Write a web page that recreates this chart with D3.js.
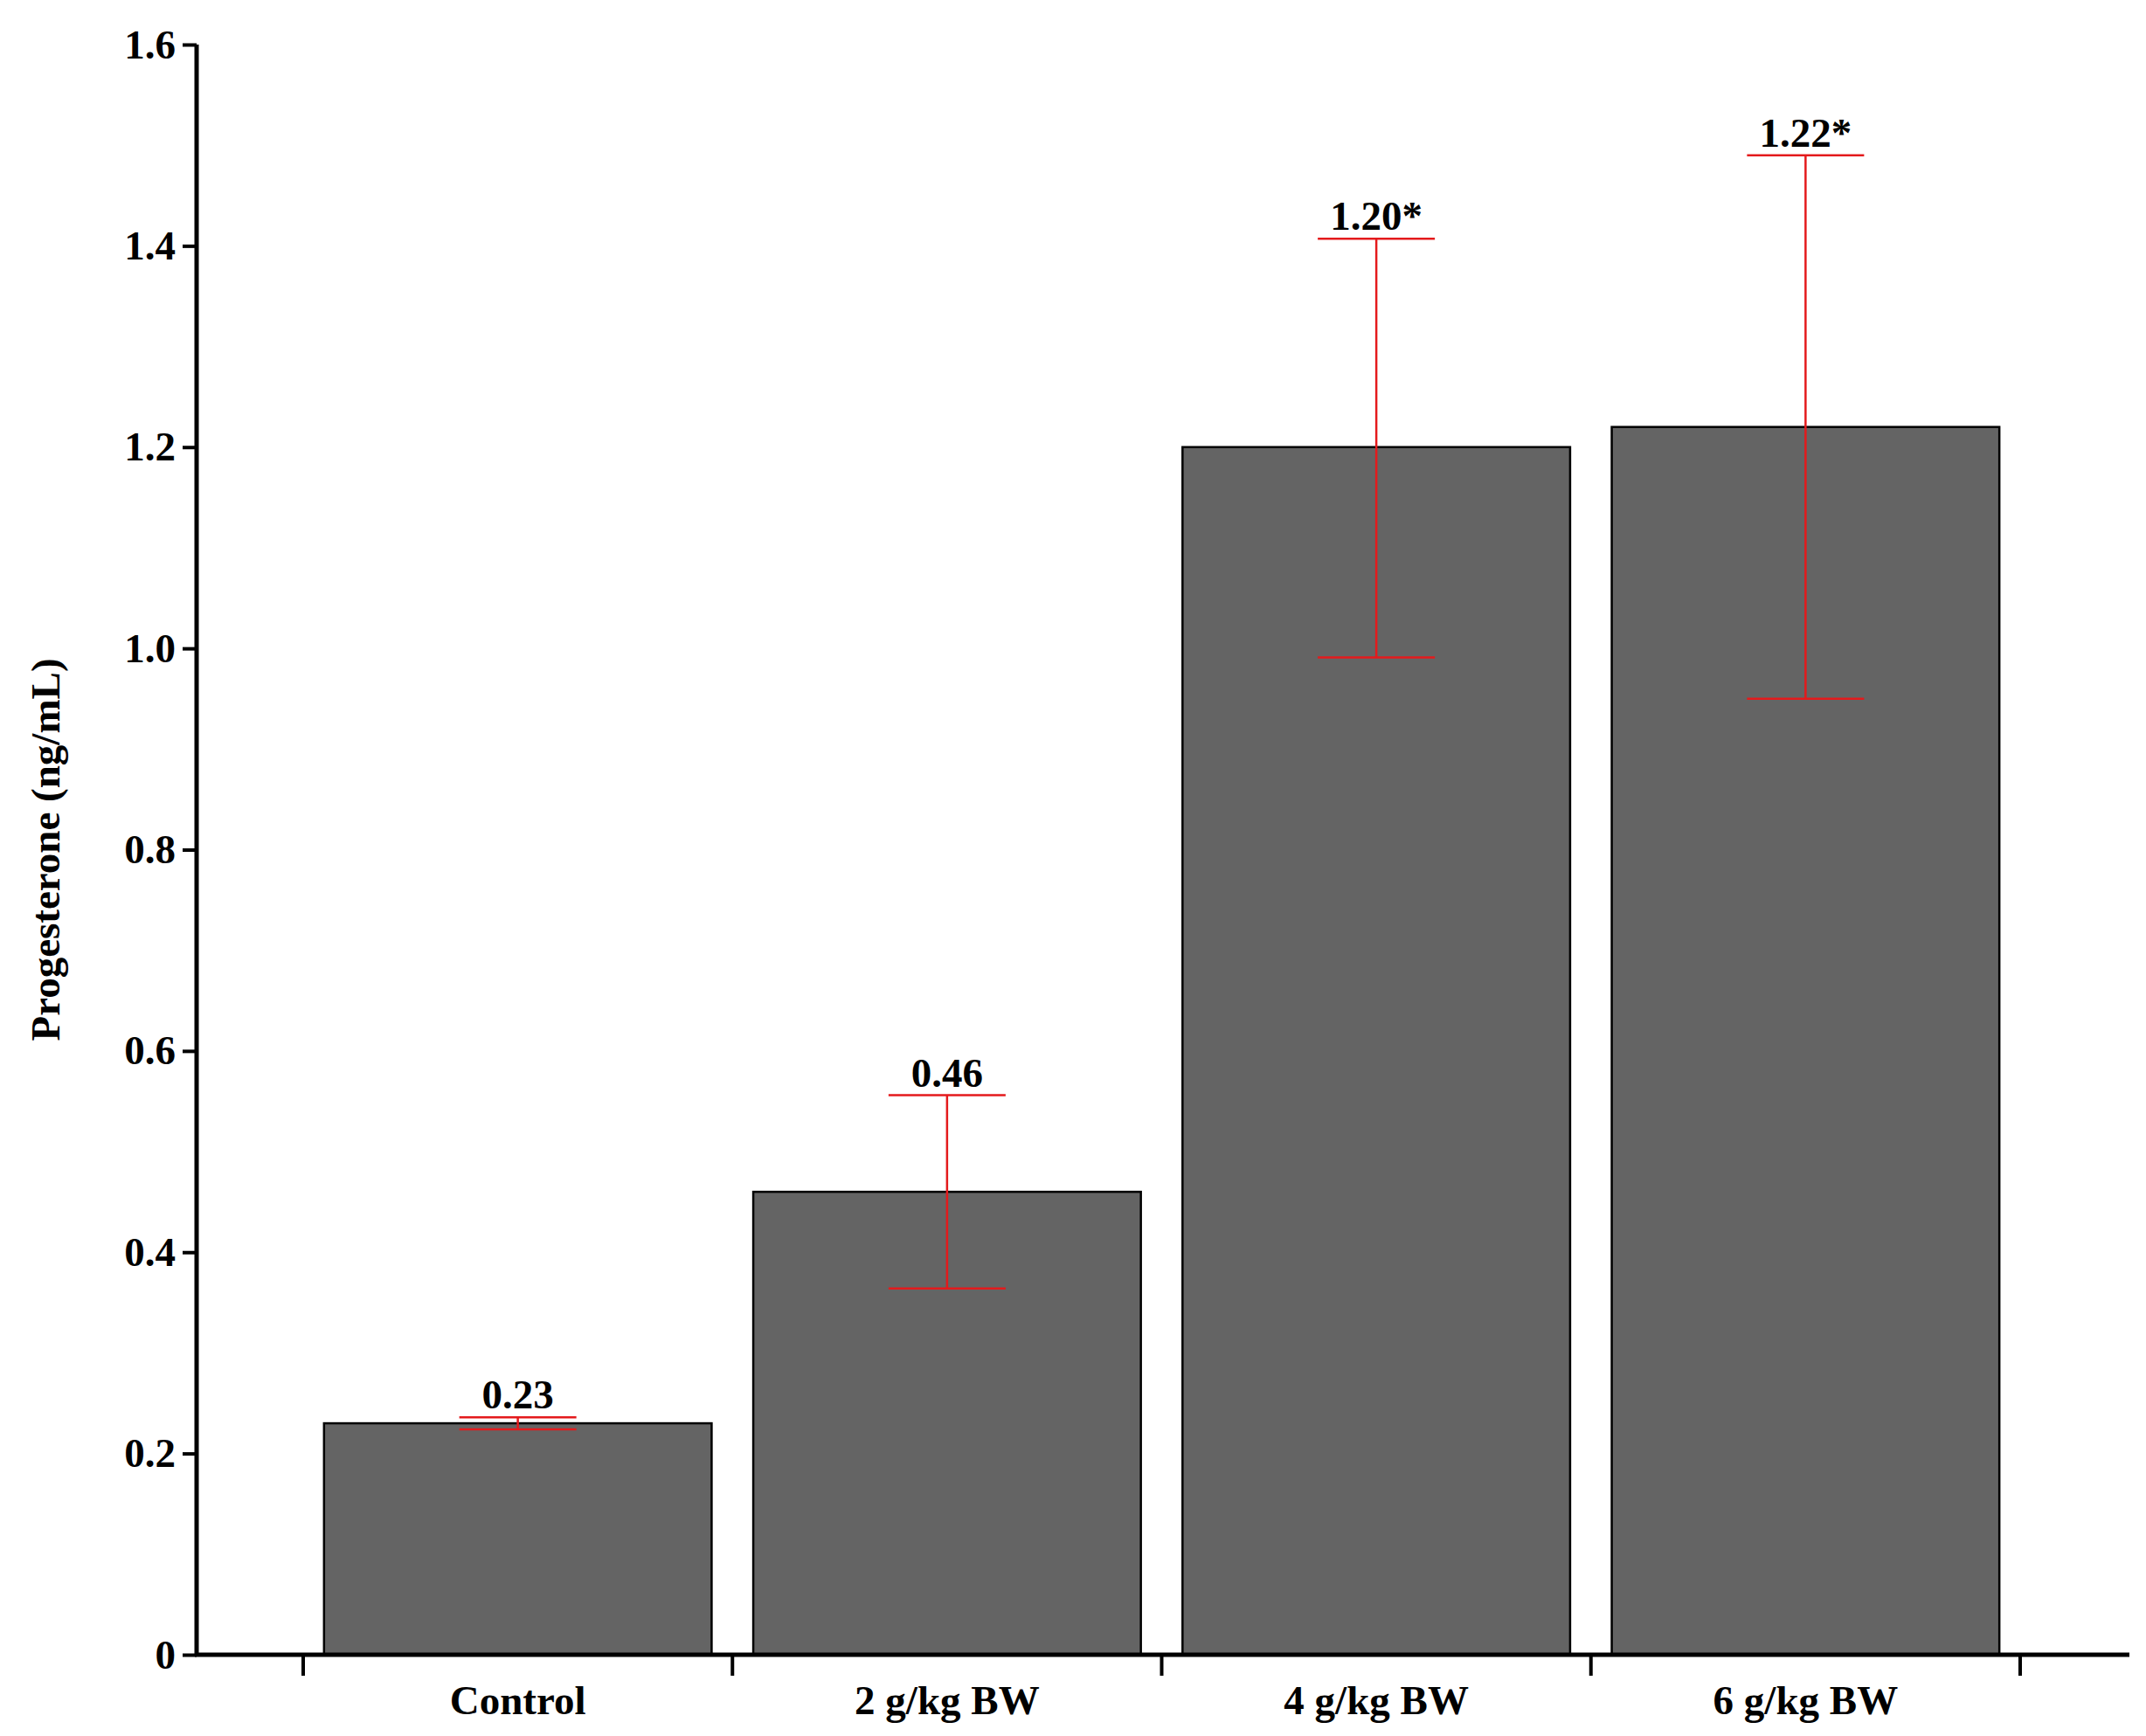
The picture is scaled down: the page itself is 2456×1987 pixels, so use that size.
<!DOCTYPE html><html><head><meta charset="utf-8">
<script src="https://cdn.jsdelivr.net/npm/d3@7"></script>
<style>body{margin:0;background:#fff}text{font-family:"Liberation Serif","Times New Roman",serif;font-weight:bold}</style>
</head><body><svg id="c" width="2456" height="1987"></svg><script>
const categories=["Control","2 g/kg BW","4 g/kg BW","6 g/kg BW"];
const values=[0.23,0.46,1.20,1.22];
const errLow=[0.224,0.364,0.991,0.950];
const errHigh=[0.236,0.556,1.407,1.490];
const labels=["0.23","0.46","1.20*","1.22*"];
const yTicks=[0,0.2,0.4,0.6,0.8,1.0,1.2,1.4,1.6];
const svg=d3.select("#c");
const axX=225, x0=347, x1=2312, xEnd=2437, yTop=51, yBot=1894;
const x=d3.scaleBand().domain(categories).range([x0,x1]).paddingInner(0.097).paddingOuter(0.0485);
const y=d3.scaleLinear().domain([0,1.6]).range([yBot,yTop]);
const g=svg.append("g");
g.selectAll("rect.bar").data(values).join("rect").attr("x",(d,i)=>x(categories[i])).attr("width",x.bandwidth())
 .attr("y",d=>y(d)).attr("height",d=>yBot-y(d)).attr("fill","#646464").attr("stroke","#000").attr("stroke-width",2.5);
const cap=67;
values.forEach((v,i)=>{const cx=x(categories[i])+x.bandwidth()/2;
 g.append("line").attr("x1",cx).attr("x2",cx).attr("y1",y(errLow[i])).attr("y2",y(errHigh[i])).attr("stroke","#e41a1c").attr("stroke-width",2.5);
 [errLow[i],errHigh[i]].forEach(e=>g.append("line").attr("x1",cx-cap).attr("x2",cx+cap).attr("y1",y(e)).attr("y2",y(e)).attr("stroke","#e41a1c").attr("stroke-width",2.5));
 g.append("text").attr("x",cx).attr("y",y(errHigh[i])-10).attr("text-anchor","middle").attr("font-size",47).text(labels[i]);
});
const ya=svg.append("g").attr("transform",`translate(${axX},0)`).call(d3.axisLeft(y).tickValues(yTicks).tickSize(16).tickPadding(8).tickFormat(d=>d===0?"0":d3.format(".1f")(d)));
ya.select(".domain").attr("stroke-width",5).attr("d",`M0,${yTop}V${yBot}`);
ya.selectAll(".tick line").attr("stroke-width",4);
ya.selectAll("text").attr("font-size",47).attr("font-family","Liberation Serif").attr("font-weight","bold");
svg.append("line").attr("x1",axX-2).attr("x2",xEnd).attr("y1",yBot).attr("y2",yBot).attr("stroke","#000").attr("stroke-width",5);
const step=(x1-x0)/categories.length;
d3.range(categories.length+1).forEach(i=>svg.append("line").attr("x1",x0+i*step).attr("x2",x0+i*step).attr("y1",yBot).attr("y2",yBot+24).attr("stroke","#000").attr("stroke-width",4));
categories.forEach((c,i)=>svg.append("text").attr("x",x0+(i+0.5)*step).attr("y",yBot+68).attr("text-anchor","middle").attr("font-size",47).text(c));
svg.append("text").attr("transform",`translate(68,${(yTop+yBot)/2}) rotate(-90)`).attr("text-anchor","middle").attr("font-size",47).text("Progesterone (ng/mL)");
</script></body></html>
